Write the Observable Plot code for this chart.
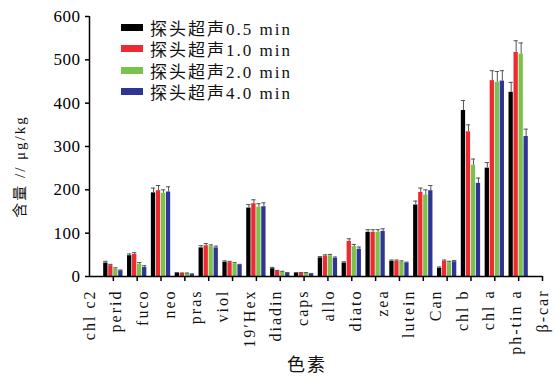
<!DOCTYPE html>
<html>
<head>
<meta charset="utf-8">
<script src="https://cdn.jsdelivr.net/npm/d3@7"></script>
<script src="https://cdn.jsdelivr.net/npm/@observablehq/plot@0.6"></script>
<style>
  html, body { margin: 0; padding: 0; background: #fff; }
  #chart { position: relative; width: 559px; height: 379px; overflow: hidden; background: #fff; }
  .legend { position: absolute; left: 121px; top: 17px; font-family: "Liberation Serif", "Noto Sans CJK SC", serif; font-size: 17px; letter-spacing: 2px; color: #111; }
  .legend .row { display: flex; align-items: center; height: 21.3px; white-space: nowrap; }
  .legend .sw { width: 22px; height: 7px; margin-right: 7px; flex: none; }
</style>
</head>
<body>
<div id="chart"></div>
<script>
// Pigment categories along the x axis
const pigments = ["chl c2", "perid", "fuco", "neo", "pras", "viol", "19′Hex", "diadin", "caps",
  "allo", "diato", "zea", "lutein", "Can", "chl b", "chl a", "ph-tin a", "β-car"];

// Probe sonication durations (series)
const series = ["探头超声0.5 min", "探头超声1.0 min", "探头超声2.0 min", "探头超声4.0 min"];
const colors = ["#000000", "#ec2a2f", "#79c24c", "#2e3592"];

// Content (μg/kg) per group, one array per sonication time
const t05 = [31, 48, 193, 8, 66, 33, 158, 18, 8, 43, 31, 102, 35, 165, 19, 383, 250, 425];
const t10 = [25, 51, 198, 7, 71, 32, 168, 12, 8, 47, 81, 102, 35, 194, 35, 334, 452, 517];
const t20 = [17, 28, 192, 7, 69, 29, 160, 10, 8, 48, 69, 102, 33, 188, 32, 257, 448, 513];
const t40 = [13, 21, 195, 5, 66, 26, 161, 8, 6, 42, 63, 104, 31, 198, 34, 215, 451, 323];

// Standard deviations (error bars)
const e05 = [4, 4, 11, 1, 5, 3, 8, 3, 1, 3, 3, 6, 3, 9, 3, 23, 13, 23];
const e10 = [3, 4, 12, 1, 5, 3, 9, 2, 1, 3, 6, 6, 3, 10, 3, 16, 23, 27];
const e20 = [3, 4, 8, 1, 4, 3, 8, 2, 1, 3, 5, 6, 3, 12, 3, 14, 25, 26];
const e40 = [2, 4, 12, 1, 4, 2, 9, 1, 1, 3, 5, 6, 2, 12, 3, 12, 24, 17];

// y axis tick values
const yTicks = [0, 100, 200, 300, 400, 500, 600];

const values = [t05, t10, t20, t40];
const errors = [e05, e10, e20, e40];

// Group g sits on slot g + 1 of a 19-slot axis; bars are stepped within each group
const nSlots = 19;
const barStep = 0.21, barW = 0.18;
const center = d => d.g + 1 + (d.k - 1.5) * barStep;

const rows = pigments.flatMap((p, g) => series.map((s, k) => ({
  pigment: p, g, k, s, v: values[k][g], e: errors[k][g]
})));

const serif = "Liberation Serif, Noto Sans CJK SC, serif";

const chart = Plot.plot({
  width: 559,
  height: 379,
  marginLeft: 89,
  marginRight: 17,
  marginTop: 16,
  marginBottom: 103,
  style: { background: "#fff", color: "#000", fontFamily: serif },
  x: { domain: [0, nSlots], axis: null, label: null },
  y: { domain: [0, 600], axis: null, label: null },
  color: { domain: series, range: colors },
  marks: [
    Plot.rect(rows, {
      x1: d => center(d) - barW / 2,
      x2: d => center(d) + barW / 2,
      y1: 0,
      y2: "v",
      fill: "s"
    }),
    Plot.ruleX(rows, { x: center, y1: "v", y2: d => d.v + d.e, stroke: "#555", strokeWidth: 1 }),
    Plot.ruleY(rows, {
      y: d => d.v + d.e,
      x1: d => center(d) - barW / 2,
      x2: d => center(d) + barW / 2,
      stroke: "#555",
      strokeWidth: 1
    }),
    Plot.axisY({ ticks: yTicks, label: null, tickSize: 4, tickPadding: 5, fontSize: 17, strokeWidth: 1.5, fontFamily: serif }),
    Plot.axisX({ ticks: d3.range(1, nSlots + 1), label: null, tickFormat: () => "", tickSize: 5, strokeWidth: 1.5 }),
    Plot.ruleX([0], { stroke: "#000", strokeWidth: 1.5 }),
    Plot.ruleY([0], { stroke: "#000", strokeWidth: 1.5 }),
    // category labels spread evenly along the axis
    Plot.text(pigments, {
      x: (d, i) => i * nSlots / (pigments.length - 1),
      y: 0,
      text: d => d,
      rotate: -90,
      textAnchor: "end",
      dy: 13,
      fontSize: 16,
      fontFamily: serif,
      fill: "#111"
    }),
    Plot.text(["色素"], { frameAnchor: "bottom", textAnchor: "middle", lineAnchor: "middle", dx: -9, dy: 89, fontSize: 18, fontFamily: "Noto Sans CJK SC", fill: "#111" }),
    Plot.text(["含量 // μg/kg"], { frameAnchor: "left", textAnchor: "middle", lineAnchor: "middle", dx: -69, dy: 20, rotate: -90, fontSize: 15, fontFamily: serif, fill: "#111" })
  ]
});

d3.select(chart).selectAll("g[aria-label=text] text").attr("letter-spacing", "2px");
d3.select(chart).selectAll("g[aria-label='y-axis tick label'] text").attr("letter-spacing", "0.5px");

const root = document.getElementById("chart");
root.append(chart);

// legend inside the plot area
const legend = document.createElement("div");
legend.className = "legend";
series.forEach((s, k) => {
  const row = document.createElement("div");
  row.className = "row";
  const sw = document.createElement("span");
  sw.className = "sw";
  sw.style.background = colors[k];
  const label = document.createElement("span");
  label.textContent = s;
  row.append(sw, label);
  legend.append(row);
});
root.append(legend);
</script>
</body>
</html>
